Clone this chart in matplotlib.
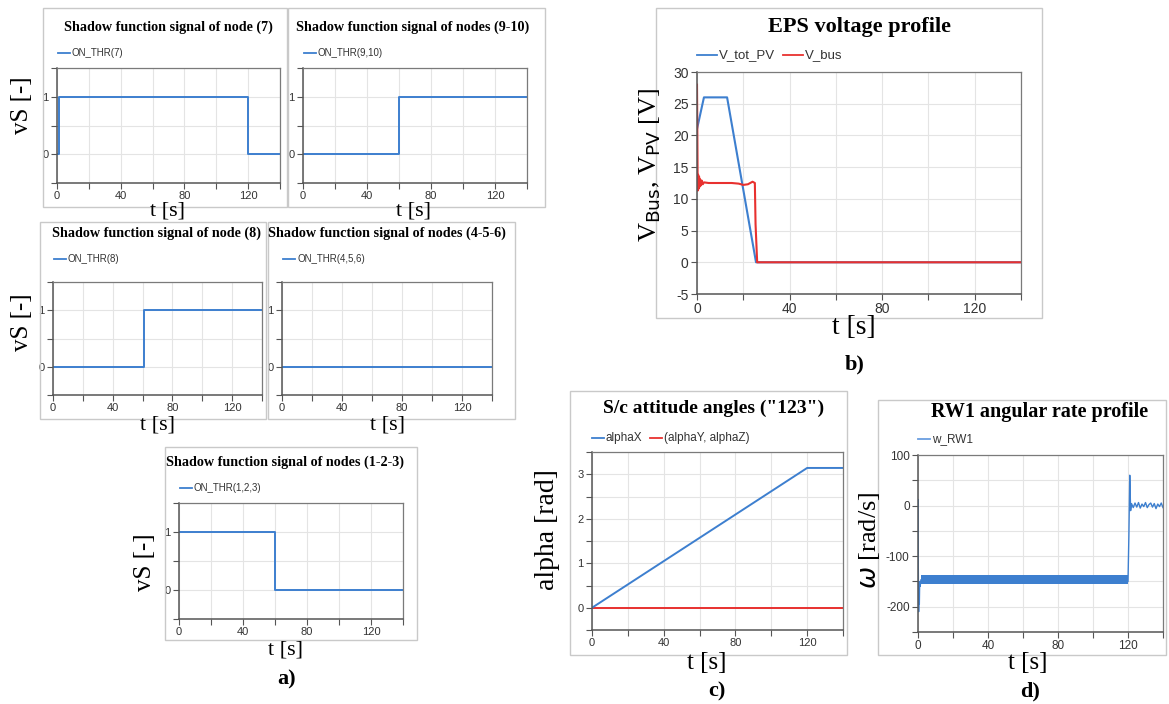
import matplotlib
matplotlib.use("Agg")
import matplotlib.pyplot as plt
from matplotlib.patches import Rectangle
from matplotlib.lines import Line2D

W, H = 1169, 704

# ---------------- data ----------------
# shadow function signals (breakpoints)
t_n7 = [0, 1, 1, 120, 120, 140]
v_n7 = [0, 0, 1, 1, 0, 0]
t_n910 = [0, 60, 60, 140]
v_n910 = [0, 0, 1, 1]
t_n8 = [0, 61, 61, 140]
v_n8 = [0, 0, 1, 1]
t_n456 = [0, 140]
v_n456 = [0, 0]
t_n123 = [0, 60, 60, 140]
v_n123 = [1, 1, 0, 0]

# EPS voltage profile
t_pv = [0, 0.3, 3, 13, 25.5, 140]
v_pv = [21, 21.5, 26, 26, 0, 0]
t_bus = [0, 0.15, 0.3, 0.5, 0.7, 0.9, 1.1, 1.3, 1.6, 2.0, 2.5, 3, 5, 10, 15, 18, 20, 22, 24, 25, 25.3, 26, 140]
v_bus = [28, 20, 11.3, 13.8, 11.6, 13.5, 11.9, 13.1, 12.1, 12.9, 12.3, 12.6, 12.5, 12.5, 12.5, 12.4, 12.2, 12.3, 12.7, 12.5, 6, 0, 0]

# attitude angles
t_alpha = [0, 120, 140]
alphaX = [0, 3.1416, 3.1416]
alphaYZ = [0, 0, 0]

# RW1 angular rate
t_w = [0, 0.1, 0.2, 0.4, 0.6, 0.8, 1.0, 1.3, 1.6]
w_rw1 = [0, 12, -120, -210, -170, -195, -150, -160, -147]
t_band = [1.6, 120]
w_band_lo = [-156, -156]
w_band_hi = [-138, -138]
t_w2 = [120, 120.5, 121, 121.5, 122, 123, 124, 125, 126, 127, 128, 129, 130, 131, 132, 133, 134, 135, 136, 137, 138, 139, 140]
w_rw2 = [-150, -60, 60, -10, 4, -4, 5, -3, 6, -5, 3, -2, 6, -4, 2, 5, -3, 4, -6, 3, -2, 5, -4]

# ---------------- style ----------------
BLUE = "#3d7fcf"
RED = "#e8312f"
GRID = "#e4e4e4"
BOXC = "#c9c9c9"
SERIF = "Liberation Serif"
SANS = "Liberation Sans"

fig = plt.figure(figsize=(W / 100, H / 100), dpi=100)
fig.patch.set_facecolor("white")


def fx(x):
    return x / W


def fy(y):
    return 1 - y / H


def add_ax(l, t, r, b):
    return fig.add_axes([fx(l), fy(b), fx(r) - fx(l), (b - t) / H])


def box(l, t, r, b):
    fig.patches.append(Rectangle((fx(l), fy(b)), fx(r) - fx(l), (b - t) / H,
                                 transform=fig.transFigure, fill=False,
                                 edgecolor=BOXC, linewidth=1.0, zorder=0))


def ftext(x, y, s, **kw):
    fig.text(fx(x), fy(y), s, ha=kw.pop("ha", "center"), va=kw.pop("va", "center"), **kw)


def legend_item(x, y, label, color, size=7.2, ln=12):
    fig.lines.append(Line2D([fx(x), fx(x + ln)], [fy(y), fy(y)], transform=fig.transFigure,
                            color=color, linewidth=1.3))
    ftext(x + ln + 2, y, label, ha="left", fontsize=size, family=SANS, color="#333333")


def style_ax(ax, xticks, xlabels, yticks, ylabels, xlim, ylim, tsize=7.5):
    ax.set_xlim(*xlim)
    ax.set_ylim(*ylim)
    ax.set_xticks(xticks)
    ax.set_xticklabels(xlabels)
    ax.set_yticks(yticks)
    ax.set_yticklabels(ylabels)
    ax.grid(True, color=GRID, linewidth=0.8)
    ax.set_axisbelow(True)
    for s in ["top", "right"]:
        ax.spines[s].set_color("#7a7a7a")
        ax.spines[s].set_linewidth(0.9)
    for s in ["left", "bottom"]:
        ax.spines[s].set_color("#555555")
        ax.spines[s].set_linewidth(1.1)
    ax.tick_params(direction="out", length=4, width=0.8, color="#555555",
                   labelsize=tsize, labelcolor="#333333", pad=2)
    for lab in ax.get_xticklabels() + ax.get_yticklabels():
        lab.set_family(SANS)


xt = [0, 20, 40, 60, 80, 100, 120, 140]
xtl = ["0", "", "40", "", "80", "", "120", ""]
yt_node = [-0.5, 0, 0.5, 1, 1.5]
ytl_node = ["", "0", "", "1", ""]


def node_panel(bx, axp, title, tc, leg, t, v, xl, ylab=None):
    box(*bx)
    ax = add_ax(*axp)
    ax.plot(t, v, color=BLUE, linewidth=1.4)
    style_ax(ax, xt, xtl, yt_node, ytl_node, (0, 140), (-0.5, 1.5), tsize=8)
    ftext(tc[0], tc[1], title, fontsize=10.2, family=SERIF, weight="bold")
    legend_item(axp[0] + 1, tc[1] + 26, leg, BLUE, size=7)
    ftext(xl[0], xl[1], "t [s]", fontsize=16, family=SERIF)
    if ylab is not None:
        ftext(ylab[0], ylab[1], "vS [-]", fontsize=18, family=SERIF, rotation=90)
    return ax


node_panel((43, 8, 287, 207), (57, 68, 280, 183), "Shadow function signal of node (7)",
           (168, 27), "ON_THR(7)", t_n7, v_n7, (168, 211), (22, 105))
node_panel((288, 8, 545, 207), (303, 68, 527, 183), "Shadow function signal of nodes (9-10)",
           (413, 27), "ON_THR(9,10)", t_n910, v_n910, (413, 211))
node_panel((40, 222, 266, 419), (53, 282, 262, 395), "Shadow function signal of node (8)",
           (157, 233), "ON_THR(8)", t_n8, v_n8, (157, 425), (22, 322))
node_panel((268, 222, 515, 419), (282, 282, 492, 395), "Shadow function signal of nodes (4-5-6)",
           (387, 233), "ON_THR(4,5,6)", t_n456, v_n456, (387, 425))
node_panel((165, 447, 417, 640), (179, 503, 403, 619), "Shadow function signal of nodes (1-2-3)",
           (285, 462), "ON_THR(1,2,3)", t_n123, v_n123, (285, 650), (145, 562))
ftext(287, 679, "a)", fontsize=16, family=SERIF, weight="bold")

# ---------------- panel b ----------------
box(656, 8, 1042, 318)
axb = add_ax(697, 72, 1021, 294)
axb.plot(t_pv, v_pv, color=BLUE, linewidth=1.5)
axb.plot(t_bus, v_bus, color=RED, linewidth=1.5)
style_ax(axb, xt, xtl, list(range(-5, 31, 5)), [str(v) for v in range(-5, 31, 5)],
         (0, 140), (-5, 30), tsize=10)
ftext(859, 27, "EPS voltage profile", fontsize=16, family=SERIF, weight="bold")
legend_item(697, 55, "V_tot_PV", BLUE, size=9.5, ln=20)
legend_item(783, 55, "V_bus", RED, size=9.5, ln=20)
ftext(854, 328, "t [s]", fontsize=20, family=SERIF)
ftext(650, 165, r"V$_{\mathrm{Bus}}$, V$_{\mathrm{PV}}$ [V]", fontsize=19, family=SERIF, rotation=90)
ftext(855, 364, "b)", fontsize=16, family=SERIF, weight="bold")

# ---------------- panel c ----------------
box(570, 391, 847, 655)
axc = add_ax(592, 452, 843, 630)
axc.plot(t_alpha, alphaYZ, color=RED, linewidth=1.4)
axc.plot(t_alpha, alphaX, color=BLUE, linewidth=1.4)
style_ax(axc, xt, xtl, [-0.5, 0, 0.5, 1, 1.5, 2, 2.5, 3, 3.5],
         ["", "0", "", "1", "", "2", "", "3", ""], (0, 140), (-0.5, 3.5), tsize=8)
ftext(714, 408, 'S/c attitude angles ("123")', fontsize=14, family=SERIF, weight="bold")
legend_item(592, 438, "alphaX", BLUE, size=8.5)
legend_item(650, 438, "(alphaY, alphaZ)", RED, size=8.5)
ftext(707, 663, "t [s]", fontsize=18, family=SERIF)
ftext(548, 530, "alpha [rad]", fontsize=20, family=SERIF, rotation=90)
ftext(717, 691, "c)", fontsize=16, family=SERIF, weight="bold")

# ---------------- panel d ----------------
box(878, 400, 1166, 655)
axd = add_ax(918, 455, 1163, 632)
axd.fill_between(t_band, w_band_lo, w_band_hi, color=BLUE, linewidth=0)
axd.plot(t_w, w_rw1, color=BLUE, linewidth=0.9)
axd.plot(t_w2, w_rw2, color=BLUE, linewidth=1.0)
style_ax(axd, xt, xtl, [-250, -200, -150, -100, -50, 0, 50, 100],
         ["", "-200", "", "-100", "", "0", "", "100"], (0, 140), (-250, 100), tsize=8.5)
ftext(1040, 412, "RW1 angular rate profile", fontsize=14.5, family=SERIF, weight="bold")
legend_item(918, 439, "w_RW1", "#6a9ee0", size=8.5)
ftext(1028, 663, "t [s]", fontsize=18, family=SERIF)
ftext(870, 540, r"$\omega$ [rad/s]", fontsize=19, family=SERIF, rotation=90)
ftext(1030, 691, "d)", fontsize=16, family=SERIF, weight="bold")

fig.savefig("out.png", dpi=100, facecolor="white")
